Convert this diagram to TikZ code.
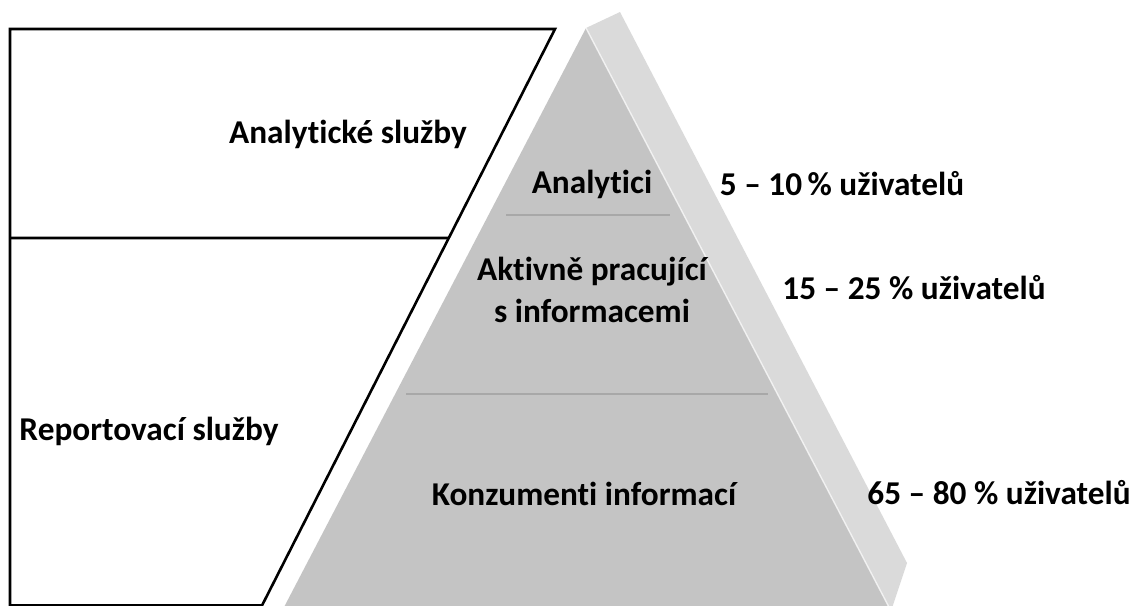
\documentclass[tikz,border=0pt]{standalone}
\usepackage{fontspec}
\setmainfont[Ligatures=NoCommon]{Carlito}
\usetikzlibrary{calc}
\definecolor{frontgray}{RGB}{196,196,196}
\definecolor{sidegray}{RGB}{218,218,218}
\definecolor{rulegray}{RGB}{168,168,168}
\begin{document}
\begin{tikzpicture}[x=1pt,y=-1pt,
  frame/.style={draw=black,line width=2.6pt,line join=miter},
  label/.style={font=\fontsize{33.3}{42}\selectfont\bfseries,inner sep=0pt,align=center},
  divider/.style={draw=rulegray,line width=2.4pt}]
\useasboundingbox (0,0) rectangle (1139,605);
\clip (0,0) rectangle (1139,605);

% left frame: service layers
\coordinate (fTL) at (10,29);
\coordinate (fTR) at (555,29);
\coordinate (fBR) at (262,605.5);
\coordinate (fBL) at (10,605.5);
\draw[frame] (fBL) -- (fTL) -- (fTR) -- (fBR) -- cycle;
\coordinate (mL) at (10,238);
\coordinate (mR) at ($(fTR)!{(238-29)/(605.5-29)}!(fBR)$);
\draw[frame] (mL) -- (mR);

% pyramid: side face and front face
\coordinate (apex) at (586,28);
\coordinate (apexB) at (620,12);
\coordinate (sideB) at (907,563);
\coordinate (pBR) at (891,611);
\coordinate (pBL) at (282,611);
\fill[sidegray] (apex) -- (apexB) -- (sideB) -- (pBR) -- cycle;
\fill[frontgray] (apex) -- (pBR) -- (pBL) -- cycle;
\draw[white,opacity=0.7,line width=1.4pt] (apex) -- (pBR);

% level dividers
\coordinate (d1L) at (506,215);
\coordinate (d1R) at (670,215);
\coordinate (d2L) at (406,394);
\coordinate (d2R) at (768,394);
\draw[divider] (d1L) -- (d1R);
\draw[divider] (d2L) -- (d2R);

% texts
\node[label] (svcA) at (348,134) {Analytické služby};
\node[label] (svcR) at (149,431) {Reportovací služby};
\node[label] (lvl1) at (592,184) {Analytici};
\node[label] (lvl2) at (592,290) {Aktivně pracující\\s informacemi};
\node[label] (lvl3) at (584,494) {Konzumenti informací};
\node[label] (pc1) at (842,184) {5 – 10\,\% uživatelů};
\node[label] (pc2) at (914,288) {15 – 25 \% uživatelů};
\node[label] (pc3) at (999,493) {65 – 80 \% uživatelů};
\end{tikzpicture}
\end{document}
